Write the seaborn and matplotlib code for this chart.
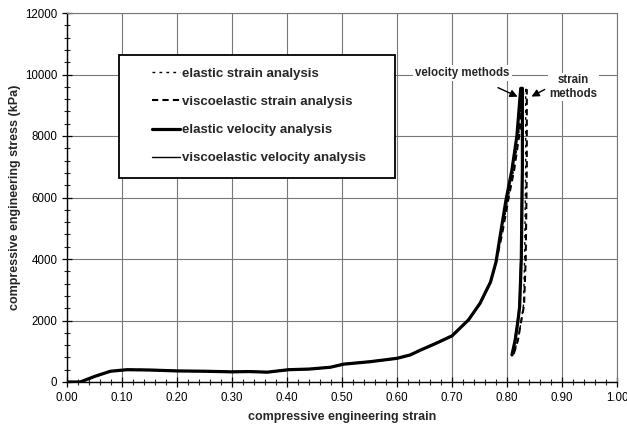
import numpy as np
import pandas as pd
import matplotlib
matplotlib.use("Agg")
import matplotlib.pyplot as plt
from matplotlib.ticker import MultipleLocator, FormatStrFormatter
from matplotlib.patches import Rectangle
import seaborn as sns

# ---- data ----
load_strain = [0.00, 0.024, 0.05, 0.079, 0.109, 0.15, 0.20, 0.25, 0.30, 0.33, 0.364,
               0.403, 0.44, 0.479, 0.503, 0.551, 0.60, 0.624, 0.643, 0.67, 0.70,
               0.73, 0.751, 0.77, 0.78]
load_stress = [0, 0, 180, 350, 400, 390, 360, 350, 330, 340, 320,
               400, 420, 480, 580, 660, 770, 880, 1040, 1250, 1500,
               2020, 2560, 3250, 3900]

# velocity methods: end of loading + unloading
vel_el_strain = [0.788, 0.798, 0.809, 0.818, 0.825, 0.828, 0.828, 0.826, 0.823, 0.820, 0.815, 0.809]
vel_el_stress = [4800, 5900, 6900, 8000, 9550, 9550, 7000, 4000, 2450, 2000, 1370, 880]
vel_ve_strain = [0.788, 0.798, 0.809, 0.818, 0.824, 0.827, 0.827, 0.825, 0.822, 0.819, 0.814, 0.809]
vel_ve_stress = [4800, 5900, 6900, 8000, 9500, 9500, 7000, 4000, 2450, 2000, 1370, 900]

# strain methods: end of loading + unloading
str_el_strain = [0.790, 0.801, 0.812, 0.821, 0.829, 0.834, 0.834, 0.832, 0.830, 0.826, 0.820, 0.812]
str_el_stress = [4800, 5900, 6900, 8000, 9550, 9550, 7000, 4000, 2500, 2000, 1370, 900]
str_ve_strain = [0.791, 0.802, 0.813, 0.822, 0.830, 0.836, 0.836, 0.834, 0.831, 0.826, 0.820, 0.812]
str_ve_stress = [4800, 5900, 6900, 8000, 9500, 9500, 7000, 4000, 2500, 2000, 1370, 900]

series_names = ["elastic strain analysis", "viscoelastic strain analysis",
                "elastic velocity analysis", "viscoelastic velocity analysis"]

x_ticks = [0.0, 0.1, 0.2, 0.3, 0.4, 0.5, 0.6, 0.7, 0.8, 0.9, 1.0]
y_ticks = [0, 2000, 4000, 6000, 8000, 10000, 12000]

# ---- build a long table ----
tails = {
    series_names[0]: (str_el_strain, str_el_stress),
    series_names[1]: (str_ve_strain, str_ve_stress),
    series_names[2]: (vel_el_strain, vel_el_stress),
    series_names[3]: (vel_ve_strain, vel_ve_stress),
}
frames = []
for name, (sx, sy) in tails.items():
    xs = list(load_strain) + list(sx)
    ys = list(load_stress) + list(sy)
    frames.append(pd.DataFrame({"strain": xs, "stress": ys, "series": name}))
df = pd.concat(frames, ignore_index=True)

sns.set_theme(style="white")
plt.rcParams["font.family"] = ["Liberation Sans", "DejaVu Sans"]

fig = plt.figure(figsize=(6.27, 4.30), dpi=100)
ax = fig.add_axes([67 / 627, 48 / 430, 550 / 627, 369 / 430])

styles = {
    series_names[0]: dict(color="black", lw=1.0, ls=(0, (2, 3))),
    series_names[1]: dict(color="black", lw=1.5, ls=(0, (3, 2))),
    series_names[2]: dict(color="black", lw=2.3, ls="-"),
    series_names[3]: dict(color="black", lw=1.0, ls="-"),
}
draw_order = [series_names[2], series_names[3], series_names[1], series_names[0]]
for name in draw_order:
    sub = df[df["series"] == name]
    st = styles[name]
    sns.lineplot(data=sub, x="strain", y="stress", sort=False, estimator=None,
                 color=st["color"], linewidth=st["lw"], linestyle=st["ls"],
                 ax=ax, label=name, legend=False)

ax.set_xlim(0, 1.0)
ax.set_ylim(0, 12000)
ax.set_xticks(x_ticks)
ax.set_yticks(y_ticks)
ax.xaxis.set_major_formatter(FormatStrFormatter("%.2f"))
ax.yaxis.set_major_formatter(FormatStrFormatter("%d"))
ax.xaxis.set_minor_locator(MultipleLocator(0.02))
ax.yaxis.set_minor_locator(MultipleLocator(400))
ax.tick_params(axis="both", which="major", direction="inout", length=7, width=0.9,
               labelsize=8.3, colors="black", bottom=True, left=True)
ax.tick_params(axis="both", which="minor", direction="inout", length=5, width=0.8,
               bottom=True, left=True)
ax.grid(True, which="major", color="#777777", linewidth=0.8)
for s in ["left", "bottom"]:
    ax.spines[s].set_color("black")
    ax.spines[s].set_linewidth(1.0)
for s in ["top", "right"]:
    ax.spines[s].set_color("#777777")
    ax.spines[s].set_linewidth(0.8)

ax.set_xlabel("compressive engineering strain", fontsize=9, fontweight="bold", labelpad=5)
ax.set_ylabel("compressive engineering stress (kPa)", fontsize=9, fontweight="bold", labelpad=3)

# legend frame drawn as a rectangle, entries placed inside it
frame = Rectangle((0.095, 0.553), 0.501, 0.333, transform=ax.transAxes,
                  facecolor="white", edgecolor="black", linewidth=1.3, zorder=4)
ax.add_patch(frame)
handles = {h.get_label(): h for h in ax.get_lines()}
leg = ax.legend([handles[n] for n in series_names], series_names,
                loc="upper left", bbox_to_anchor=(0.1545, 0.852),
                frameon=False, prop={"size": 9.5, "weight": "bold"},
                handlelength=2.1, handletextpad=0.15, labelspacing=1.21,
                borderpad=0, borderaxespad=0)
leg.set_zorder(5)

ax.text(0.719, 10060, "velocity methods", ha="center", va="center", fontsize=8.3,
        fontweight="bold", bbox=dict(facecolor="white", edgecolor="none", pad=1.5))
ax.annotate("", xy=(0.824, 9240), xytext=(0.779, 9610),
            arrowprops=dict(arrowstyle="-|>", color="black", lw=1.0, mutation_scale=11))
ax.text(0.921, 9600, "strain\nmethods", ha="center", va="center", fontsize=8.3,
        fontweight="bold", linespacing=1.2,
        bbox=dict(facecolor="white", edgecolor="none", pad=1.0))
ax.annotate("", xy=(0.840, 9240), xytext=(0.873, 9555),
            arrowprops=dict(arrowstyle="-|>", color="black", lw=1.0, mutation_scale=11))

fig.savefig("out.png", dpi=100)
